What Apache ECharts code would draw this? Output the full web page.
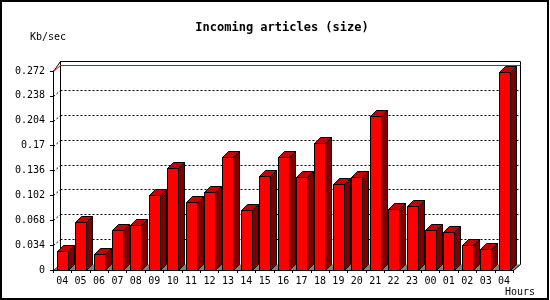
<!DOCTYPE html>
<html>
<head>
<meta charset="utf-8">
<script src="https://cdn.jsdelivr.net/npm/echarts@6/dist/echarts.min.js"></script>
<style>html,body{margin:0;padding:0;background:#fff}#c{width:550px;height:300px}</style>
</head>
<body>
<div id="c"></div>
<script>
const titleText = 'Incoming articles (size)';
const yUnit = 'Kb/sec';
const xUnit = 'Hours';
const hours = ['04','05','06','07','08','09','10','11','12','13','14','15','16','17','18','19','20','21','22','23','00','01','02','03','04'];
const sizeKbs = [0.0256,0.0656,0.0214,0.0542,0.0611,0.102,0.140,0.0925,0.106,0.154,0.0816,0.129,0.154,0.1267,0.173,0.117,0.1267,0.2105,0.083,0.087,0.0542,0.0515,0.0337,0.0283,0.2706];
const yTickLabels = ['0','0.034','0.068','0.102','0.136','0.17','0.204','0.238','0.272'];
const yMax = 0.272;
const yStep = 0.034;
const gridValues = [0.034,0.068,0.102,0.136,0.17,0.204,0.238];

const DX = 7, DY = 6, BD = 6, BW = 11;
const FONT = 'DejaVu Sans Mono';
const px = v => Math.round(v) + 0.5;

function renderFrame(params, api) {
  const cs = params.coordSys;
  const x0 = px(cs.x), x1 = px(cs.x + cs.width), yb = px(cs.y + cs.height), yt = px(cs.y);
  const top = yt - 10;
  return { type: 'group', children: [
    { type: 'rect', shape: { x: x0 + DX, y: top, width: x1 - x0, height: yb - DY - top }, style: { fill: '#fff' } },
    { type: 'polyline', shape: { points: [[x0 + DX, yb - DY], [x0 + DX, top], [x1 + DX, top], [x1 + DX, yb - DY]] }, style: { stroke: '#000', lineWidth: 1, fill: null } },
    { type: 'polygon', shape: { points: [[x0, yb], [x0, yt], [x0 + DX, top], [x0 + DX, yb - DY]] }, style: { fill: '#fff', stroke: '#000', lineWidth: 1 } },
    { type: 'polygon', shape: { points: [[x0, yb], [x0 + DX, yb - DY], [x1 + DX, yb - DY], [x1, yb]] }, style: { fill: '#808080' } },
    { type: 'line', shape: { x1: x1, y1: yb, x2: x1 + DX, y2: yb - DY }, style: { stroke: '#000', lineWidth: 1 } }
  ]};
}

function renderGrid(params, api) {
  const cs = params.coordSys;
  const x0 = px(cs.x), x1 = px(cs.x + cs.width);
  const y = px(api.coord([0, api.value(1)])[1]);
  const isMax = api.value(1) >= yMax - 1e-9;
  const st = isMax ? { stroke: '#ff0000', lineWidth: 1 } : { stroke: '#000', lineWidth: 1, lineDash: [2, 2] };
  return { type: 'group', children: [
    { type: 'line', shape: { x1: x0 + DX, y1: y - DY, x2: x1 + DX, y2: y - DY }, style: st },
    { type: 'line', shape: { x1: x0, y1: y, x2: x0 + DX, y2: y - DY }, style: st }
  ]};
}

function renderBar(params, api) {
  const c = api.coord([api.value(0), api.value(1)]);
  const b = api.coord([api.value(0), 0]);
  const xl = Math.round(c[0] - BW / 2) + 0.5, xr = xl + BW;
  const yt = px(c[1]), yb = px(b[1]);
  const s = { stroke: '#000', lineWidth: 1 };
  return { type: 'group', children: [
    { type: 'polygon', shape: { points: [[xr, yt], [xr + BD, yt - BD], [xr + BD, yb - BD], [xr, yb]] }, style: Object.assign({ fill: '#800000' }, s) },
    { type: 'polygon', shape: { points: [[xl, yt], [xl + BD, yt - BD], [xr + BD, yt - BD], [xr, yt]] }, style: Object.assign({ fill: '#c80000' }, s) },
    { type: 'rect', shape: { x: xl, y: yt, width: BW, height: yb - yt }, style: Object.assign({ fill: '#ff0000' }, s) }
  ]};
}

const chart = echarts.init(document.getElementById('c'), null, { renderer: 'canvas' });
chart.setOption({
  animation: false,
  backgroundColor: '#fff',
  title: { text: titleText, left: 277, textAlign: 'center', top: 17,
    textStyle: { fontFamily: FONT, fontSize: 12, fontWeight: 'bold', color: '#000' } },
  grid: { left: 53, top: 71, right: 36.7, bottom: 30 },
  xAxis: {
    type: 'category', data: hours, z: 5,
    axisLine: { lineStyle: { color: '#000', width: 1 } },
    axisTick: { show: true, length: 3, lineStyle: { color: '#000' } },
    axisLabel: { color: '#000', fontFamily: FONT, fontSize: 10, margin: 6, interval: 0 },
    splitLine: { show: false }
  },
  yAxis: {
    type: 'value', min: 0, max: yMax, interval: yStep, z: 5,
    axisLine: { show: true, lineStyle: { color: '#000', width: 1 } },
    axisTick: { show: true, length: 3, lineStyle: { color: '#000' } },
    axisLabel: { color: '#000', fontFamily: FONT, fontSize: 10, margin: 8,
      formatter: (v, i) => yTickLabels[Math.round(v / yStep)] },
    splitLine: { show: false }
  },
  graphic: [
    { type: 'rect', shape: { x: 1, y: 1, width: 547, height: 298 }, style: { fill: null, stroke: '#000', lineWidth: 2 }, z: 10 },
    { type: 'text', x: 30, y: 37, style: { text: yUnit, fontFamily: FONT, fontSize: 10, fill: '#000', textVerticalAlign: 'middle' } },
    { type: 'text', x: 505, y: 292, style: { text: xUnit, fontFamily: FONT, fontSize: 10, fill: '#000', textVerticalAlign: 'middle' } }
  ],
  series: [
    { type: 'custom', z: 1, silent: true, renderItem: renderFrame, data: [[0, 0]] },
    { type: 'custom', z: 1, silent: true, renderItem: renderGrid, data: gridValues.concat([yMax]).map(v => [0, v]) },
    { type: 'custom', z: 2, silent: true, renderItem: renderBar, data: sizeKbs.map((v, i) => [i, v]) }
  ]
});
</script>
</body>
</html>
